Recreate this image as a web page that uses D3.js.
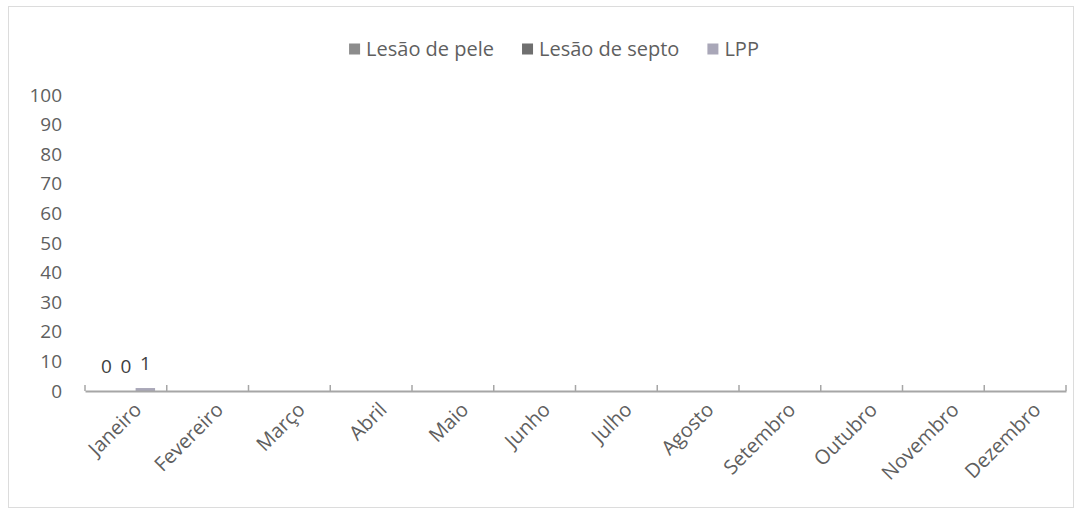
<!DOCTYPE html>
<html><head><meta charset="utf-8">
<script src="https://cdn.jsdelivr.net/npm/d3@7/dist/d3.min.js"></script>
<style>body{margin:0;background:#fff;} svg{display:block;font-family:"Open Sans",sans-serif;}</style>
</head><body><svg id="c" width="1082" height="516"></svg>
<script>
const months = ["Janeiro","Fevereiro","Março","Abril","Maio","Junho","Julho","Agosto","Setembro","Outubro","Novembro","Dezembro"];
const seriesNames = ["Lesão de pele","Lesão de septo","LPP"];
const lesaoPele  = [0,null,null,null,null,null,null,null,null,null,null,null];
const lesaoSepto = [0,null,null,null,null,null,null,null,null,null,null,null];
const lpp        = [1,null,null,null,null,null,null,null,null,null,null,null];
const yTicks = [0,10,20,30,40,50,60,70,80,90,100];
const colors = ["#8c8c8c","#6f6f6f","#a9a7b8"];

const svg = d3.select("#c");
svg.append("rect").attr("x",8.5).attr("y",6.5).attr("width",1065).attr("height",501)
  .attr("fill","#fff").attr("stroke","#dcdcdc");

const x0 = d3.scaleBand().domain(months).range([85,1066]).padding(0);
const x1 = d3.scaleBand().domain(seriesNames).range([0,x0.bandwidth()]).paddingInner(0).paddingOuter(0.6);
const y = d3.scaleLinear().domain([0,100]).range([391,95]);

// y axis labels
const ya = svg.append("g").attr("transform","translate(62,0)")
  .call(d3.axisLeft(y).tickValues(yTicks).tickSize(0).tickPadding(0));
ya.select(".domain").remove();
ya.selectAll("text").attr("font-size",19).attr("fill","#5f5f5f").attr("font-family","Open Sans, sans-serif");

// bars
const data = [lesaoPele,lesaoSepto,lpp];
months.forEach((m,i)=>{
  seriesNames.forEach((s,j)=>{
    const v = data[j][i];
    if(v===null) return;
    svg.append("rect").attr("x",x0(m)+x1(s)).attr("width",x1.bandwidth())
      .attr("y",y(v)).attr("height",y(0)-y(v)).attr("fill",colors[j]);
    svg.append("text").attr("x",x0(m)+x1(s)+x1.bandwidth()/2).attr("y",y(v)-18)
      .attr("text-anchor","middle").attr("font-size",19).attr("fill","#404040").text(v);
  });
});

// x axis
const xa = svg.append("g").attr("transform","translate(0,391)")
  .call(d3.axisBottom(x0).tickSize(0).tickFormat(""));
xa.select(".domain").attr("stroke","#a6a6a6").attr("stroke-width",2);
const bounds = months.map(m=>x0(m)).concat([x0.range()[1]]);
svg.selectAll(".tk").data(bounds).enter().append("line")
  .attr("x1",d=>d).attr("x2",d=>d).attr("y1",391).attr("y2",385)
  .attr("stroke","#a6a6a6").attr("stroke-width",1.5);
svg.selectAll(".ml").data(months).enter().append("text")
  .attr("transform",d=>`translate(${x0(d)+x0.bandwidth()/2+12},406) rotate(-45)`)
  .attr("text-anchor","end").attr("dy","0.35em").attr("font-size",20).attr("fill","#5f5f5f").text(d=>d);

// legend
const lg = svg.append("g");
const items = lg.selectAll("g").data(seriesNames).enter().append("g");
items.append("rect").attr("width",11).attr("height",11).attr("y",-5.5).attr("fill",(d,i)=>colors[i]);
items.append("text").attr("x",17).attr("dy","0.35em").attr("font-size",20).attr("fill","#5f5f5f").text(d=>d);
let xpos = 0;
items.each(function(){ const w=this.getBBox().width; d3.select(this).attr("transform",`translate(${xpos},49)`); xpos += w+28; });
const total = xpos-28;
lg.attr("transform",`translate(${554-total/2},0)`);
</script></body></html>
